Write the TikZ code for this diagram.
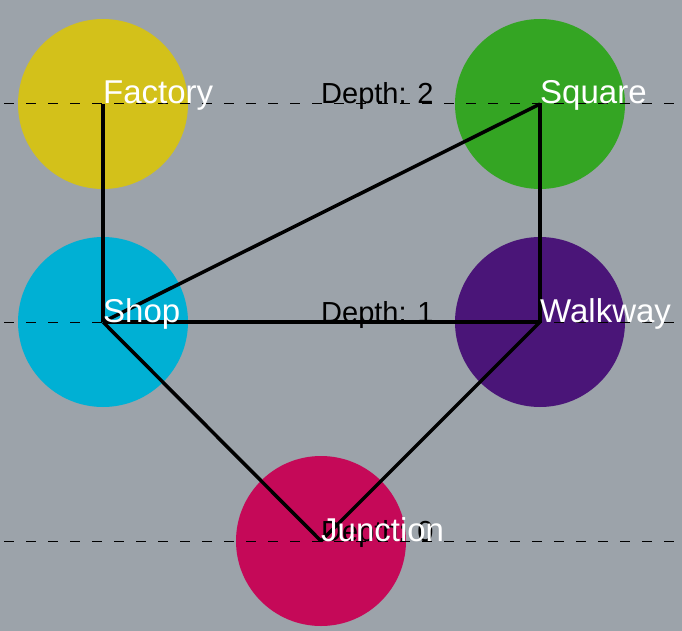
\documentclass[tikz,border=0pt]{standalone}
\usepackage{fontspec}
\setmainfont{Liberation Sans}
\definecolor{bg}{RGB}{156,163,170}
\definecolor{cfactory}{RGB}{211,193,26}
\definecolor{csquare}{RGB}{52,165,35}
\definecolor{cshop}{RGB}{0,176,212}
\definecolor{cwalk}{RGB}{74,21,120}
\definecolor{cjunc}{RGB}{197,9,88}
\begin{document}
\begin{tikzpicture}[x=1pt,y=-1pt,
  place/.style={circle,minimum size=170pt,inner sep=0pt,draw=none},
  lbl/.style={anchor=base west,inner sep=0pt,text=white,font=\fontsize{33}{33}\selectfont},
  depthlbl/.style={anchor=base west,inner sep=0pt,text=black,font=\fontsize{29}{29}\selectfont},
  level/.style={black,line width=1pt,dash pattern=on 10pt off 12pt,dash phase=18pt},
  edge/.style={black,line width=3.5pt,line join=round}]
\fill[bg] (0,0) rectangle (682,631);
\useasboundingbox (0,0) rectangle (682,631);
% places
\node[place,fill=cfactory] (factory) at (103,104) {};
\node[place,fill=csquare] (square) at (540,104) {};
\node[place,fill=cshop] (shop) at (103,322) {};
\node[place,fill=cwalk] (walkway) at (540,322) {};
\node[place,fill=cjunc] (junction) at (321,541) {};
% level lines
\coordinate (l2a) at (0,104); \coordinate (l2b) at (682,104);
\coordinate (l1a) at (0,322); \coordinate (l1b) at (682,322);
\coordinate (l0a) at (0,541); \coordinate (l0b) at (682,541);
\draw[level] (l2a) -- (l2b);
\draw[level] (l1a) -- (l1b);
\draw[level] (l0a) -- (l0b);
% edges
\draw[edge] (factory.center) -- (shop.center);
\draw[edge] (shop.center) -- (square.center);
\draw[edge] (square.center) -- (walkway.center);
\draw[edge] (shop.center) -- (walkway.center);
\draw[edge] (shop.center) -- (junction.center);
\draw[edge] (walkway.center) -- (junction.center);
% depth labels
\node[depthlbl] (d2) at (321,104) {Depth: 2};
\node[depthlbl] (d1) at (321,322) {Depth: 1};
\node[depthlbl] (d0) at (321,541) {Depth: 0};
% node labels
\node[lbl] (tf) at (factory.center) {Factory};
\node[lbl] (ts) at (square.center) {Square};
\node[lbl] (tsh) at (shop.center) {Shop};
\node[lbl] (tw) at (walkway.center) {Walkway};
\node[lbl] (tj) at (junction.center) {Junction};
\end{tikzpicture}
\end{document}
